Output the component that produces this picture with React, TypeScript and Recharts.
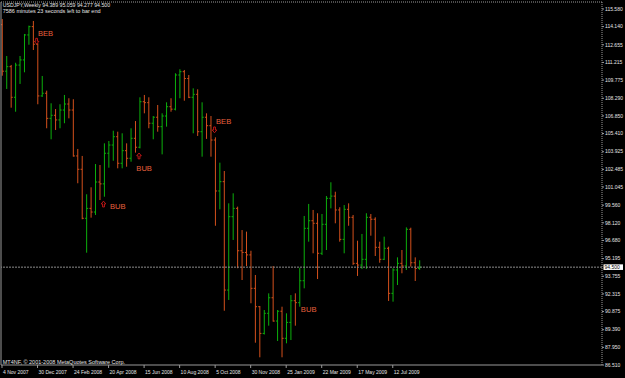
import { ComposedChart, Bar, XAxis, YAxis, ReferenceLine, ReferenceDot } from "recharts";

// USDJPY weekly, 4 Nov 2007 .. 23 Aug 2009
const opens = [
  114.3, 110.5, 110.87, 108.37, 111.0, 111.42, 113.46, 114.14, 112.7, 108.48,
  108.7, 106.65, 106.9, 106.52, 107.33, 107.82, 107.33, 103.58, 102.49, 98.49,
  99.3, 99.0, 101.45, 101.3, 103.8, 104.47, 105.15, 102.98, 104.01, 103.39,
  105.02, 104.29, 108.01, 107.93, 106.25, 106.74, 105.97, 106.84, 107.6, 107.4,
  110.19, 110.46, 109.9, 108.37, 108.61, 105.56, 106.74, 106.05, 104.88, 100.72,
  101.48, 92.63, 98.62, 99.3, 95.84, 95.7, 95.5, 92.77, 91.27, 89.09,
  90.73, 92.0, 90.1, 90.9, 88.69, 89.99, 91.76, 91.6, 93.39, 97.67,
  98.29, 98.08, 95.63, 98.0, 100.12, 100.3, 99.17, 96.77, 99.22, 98.57,
  94.81, 94.67, 95.14, 98.57, 98.41, 96.12, 95.14, 96.04, 92.36, 94.27,
  94.81, 94.6, 97.59, 94.86, 94.389,
];
const highs = [
  114.76, 111.74, 111.01, 111.19, 111.74, 113.54, 114.22, 114.6, 112.78, 110.11,
  108.91, 107.88, 107.41, 107.8, 108.56, 108.29, 108.21, 104.15, 103.58, 100.45,
  101.02, 102.92, 102.84, 104.61, 104.8, 105.64, 105.56, 105.43, 104.61, 105.84,
  106.43, 108.37, 108.56, 108.37, 106.84, 107.74, 107.06, 107.96, 108.29, 110.33,
  110.66, 110.6, 110.19, 109.1, 109.02, 107.96, 107.06, 106.84, 105.1, 103.03,
  102.35, 99.71, 100.53, 99.44, 97.53, 97.4, 95.84, 93.86, 91.33, 91.0,
  92.36, 94.59, 91.0, 91.27, 90.73, 92.22, 92.36, 94.45, 98.68, 99.66,
  99.17, 98.9, 98.84, 100.31, 101.43, 100.66, 99.39, 99.57, 99.71, 98.76,
  96.66, 97.21, 98.9, 98.84, 98.57, 96.58, 96.99, 96.17, 94.41, 95.3,
  95.9, 97.75, 97.72, 95.3, 95.059,
];
const lows = [
  110.13, 109.05, 107.52, 107.19, 109.46, 110.41, 112.66, 112.23, 107.8, 108.4,
  105.84, 104.94, 105.7, 105.84, 106.25, 106.65, 103.52, 101.35, 98.41, 95.68,
  98.54, 98.76, 99.98, 100.25, 102.62, 103.19, 102.57, 102.57, 102.7, 103.11,
  103.85, 104.2, 107.06, 105.84, 104.94, 105.56, 103.71, 105.97, 107.19, 107.3,
  108.29, 108.09, 108.3, 105.43, 105.21, 103.52, 104.97, 103.52, 97.88, 99.22,
  90.94, 91.82, 96.72, 94.41, 93.45, 94.59, 91.55, 88.33, 87.14, 89.0,
  89.72, 90.05, 88.47, 87.14, 88.28, 88.55, 89.72, 91.27, 92.77, 96.58,
  95.63, 93.53, 95.49, 95.9, 99.3, 98.08, 96.58, 95.63, 97.88, 94.68,
  93.78, 94.35, 94.35, 97.07, 95.41, 94.86, 95.08, 91.74, 91.68, 93.04,
  94.0, 94.27, 94.54, 93.37, 94.277,
];
const closes = [
  110.5, 110.87, 108.37, 111.0, 111.42, 113.46, 114.14, 112.7, 108.48, 108.7,
  106.65, 106.9, 106.52, 107.33, 107.82, 107.33, 103.58, 102.49, 98.49, 99.3,
  99.0, 101.45, 101.3, 103.8, 104.47, 105.15, 102.98, 104.01, 103.39, 105.02,
  104.29, 108.01, 107.93, 106.25, 106.74, 105.97, 106.84, 107.6, 107.4, 110.19,
  110.46, 109.9, 108.37, 108.61, 105.56, 106.74, 106.05, 104.88, 100.72, 101.48,
  92.63, 98.62, 99.3, 95.84, 95.7, 95.5, 92.77, 91.27, 89.09, 90.73,
  92.0, 90.1, 90.9, 88.69, 89.99, 91.76, 91.6, 93.39, 97.67, 98.29,
  98.08, 95.63, 98.0, 100.12, 100.3, 99.17, 96.77, 99.22, 98.57, 94.81,
  94.67, 95.14, 98.57, 98.41, 96.12, 95.14, 96.04, 92.36, 94.27, 94.81,
  94.6, 97.59, 94.86, 94.39, 94.5,
];

const dateTicks = [0, 8, 16, 24, 32, 40, 48, 56, 64, 72, 80, 88];
const dateLabels = [
  "4 Nov 2007", "30 Dec 2007", "24 Feb 2008", "20 Apr 2008", "15 Jun 2008", "10 Aug 2008",
  "5 Oct 2008", "30 Nov 2008", "25 Jan 2009", "22 Mar 2009", "17 May 2009", "12 Jul 2009",
];
const priceTicks = [
  115.58, 114.14, 112.655, 111.215, 109.775, 108.29, 106.85, 105.41, 103.925, 102.485,
  101.045, 99.56, 98.12, 96.68, 95.195, 93.755, 92.315, 90.875, 89.39, 87.95, 86.51,
];
const lastPrice = 94.5;

// pattern markers: [bar index, price]
const arrowsDown = [[7.8, 112.94], [47.86, 105.7]];
const arrowsUp = [[22.86, 99.66], [30.86, 103.59]];
const markerLabels = [
  { i: 8.1, p: 113.38, text: "BEB" },
  { i: 48.2, p: 106.19, text: "BEB" },
  { i: 24.3, p: 99.25, text: "BUB" },
  { i: 30.25, p: 102.35, text: "BUB" },
  { i: 67.3, p: 90.84, text: "BUB" },
];

const UP = "#0cb00c";
const DOWN = "#d4501c";
const GRID = "#9a9a9a";
const TXT = "#e4e4e4";
const FONT = "'Liberation Sans', Arial, sans-serif";
const X_DOMAIN: [number, number] = [-0.225, 135.12];
const Y_DOMAIN: [number, number] = [86.51, 116.15];

const data = opens.map((o, i) => ({
  i,
  open: o,
  high: highs[i],
  low: lows[i],
  close: closes[i],
  range: [lows[i], highs[i]],
}));

function OhlcBar(props: any) {
  const { x, y, width, height, payload } = props;
  const cx = x + width / 2;
  const span = payload.high - payload.low || 1;
  const yo = y + ((payload.high - payload.open) / span) * height;
  const yc = y + ((payload.high - payload.close) / span) * height;
  const color = payload.close >= payload.open ? UP : DOWN;
  return (
    <g stroke={color} strokeWidth={1}>
      <line x1={cx} y1={y} x2={cx} y2={y + height} />
      <line x1={cx - 1.6} y1={yo} x2={cx} y2={yo} />
      <line x1={cx} y1={yc} x2={cx + 1.6} y2={yc} />
    </g>
  );
}

function arrowShape(dir: number) {
  return (props: any) => {
    const { cx, cy } = props;
    const d = dir; // 1 = down, -1 = up
    const path = `M${cx - 0.9} ${cy - 3 * d} L${cx + 0.9} ${cy - 3 * d} L${cx + 0.9} ${cy} L${cx + 2.3} ${cy} L${cx} ${cy + 2.8 * d} L${cx - 2.3} ${cy} L${cx - 0.9} ${cy} Z`;
    return <path d={path} fill="none" stroke="#d01818" strokeWidth={0.9} />;
  };
}

function labelShape(text: string) {
  return (props: any) => (
    <text x={props.cx} y={props.cy} fill="#e8603e" fontSize={7.6} fontFamily={FONT}>
      {text}
    </text>
  );
}

function DateTick(props: any) {
  const { x, y, payload } = props;
  const idx = dateTicks.indexOf(payload.value);
  return (
    <text x={x + 1} y={y + 3.6} fill={TXT} fontSize={5} fontFamily={FONT} textAnchor="start">
      {dateLabels[idx]}
    </text>
  );
}

function PriceTick(props: any) {
  const { x, y, payload } = props;
  return (
    <text x={x} y={y + 1.7} fill={TXT} fontSize={5} fontFamily={FONT} textAnchor="start">
      {payload.value.toFixed(3)}
    </text>
  );
}

function LastPriceLabel(props: any) {
  const vb = props.viewBox;
  const x0 = vb.x + vb.width + 1.5;
  const y0 = vb.y;
  return (
    <g>
      <rect x={x0} y={y0 - 2.8} width={19.5} height={5.6} fill="#ffffff" />
      <text x={x0 + 1} y={y0 + 1.8} fill="#000" fontSize={5} fontFamily={FONT}>
        {lastPrice.toFixed(3)}
      </text>
    </g>
  );
}

export default function App() {
  return (
    <div style={{ position: "fixed", left: 0, top: 0, width: 625, height: 378, background: "#000" }}>
      <ComposedChart
        width={625}
        height={378}
        data={data}
        margin={{ top: 2, right: 0, left: 1, bottom: 0 }}
      >
        <XAxis
          dataKey="i"
          type="number"
          domain={X_DOMAIN}
          allowDataOverflow
          ticks={dateTicks}
          interval={0}
          tick={<DateTick />}
          tickSize={3}
          tickMargin={2}
          height={13}
          stroke={GRID}
          tickLine={{ stroke: GRID }}
        />
        <YAxis
          orientation="right"
          type="number"
          domain={Y_DOMAIN}
          allowDataOverflow
          ticks={priceTicks}
          interval={0}
          tick={<PriceTick />}
          tickSize={2}
          tickMargin={1}
          width={23}
          stroke={GRID}
          axisLine={{ stroke: GRID, strokeDasharray: "1 1" }}
          tickLine={{ stroke: GRID }}
        />
        <ReferenceLine x={X_DOMAIN[0]} stroke={GRID} />
        <ReferenceLine y={Y_DOMAIN[1]} stroke={GRID} strokeDasharray="1 1" />
        <ReferenceLine
          y={lastPrice}
          stroke="#8c8c8c"
          strokeDasharray="2 1"
          label={<LastPriceLabel />}
        />
        <Bar dataKey="range" barSize={3} shape={<OhlcBar />} isAnimationActive={false} />
        {arrowsDown.map(([i, p], k) => (
          <ReferenceDot key={"d" + k} x={i} y={p} r={0} shape={arrowShape(1)} />
        ))}
        {arrowsUp.map(([i, p], k) => (
          <ReferenceDot key={"u" + k} x={i} y={p} r={0} shape={arrowShape(-1)} />
        ))}
        {markerLabels.map((m, k) => (
          <ReferenceDot key={"l" + k} x={m.i} y={m.p} r={0} shape={labelShape(m.text)} />
        ))}
      </ComposedChart>
      <svg
        width={625}
        height={378}
        style={{ position: "absolute", left: 0, top: 0, pointerEvents: "none" }}
      >
        <text x={2.7} y={7.4} fill={TXT} fontSize={5.2} fontFamily={FONT}>
          USDJPY,Weekly  94.389 95.059 94.277 94.500
        </text>
        <text x={2.7} y={13.4} fill={TXT} fontSize={5.5} fontFamily={FONT}>
          7586 minutes 23 seconds left to bar end
        </text>
        <text x={2.7} y={364.4} fill={TXT} fontSize={5.5} fontFamily={FONT}>
          MT4NF, © 2001-2008 MetaQuotes Software Corp.
        </text>
      </svg>
    </div>
  );
}
